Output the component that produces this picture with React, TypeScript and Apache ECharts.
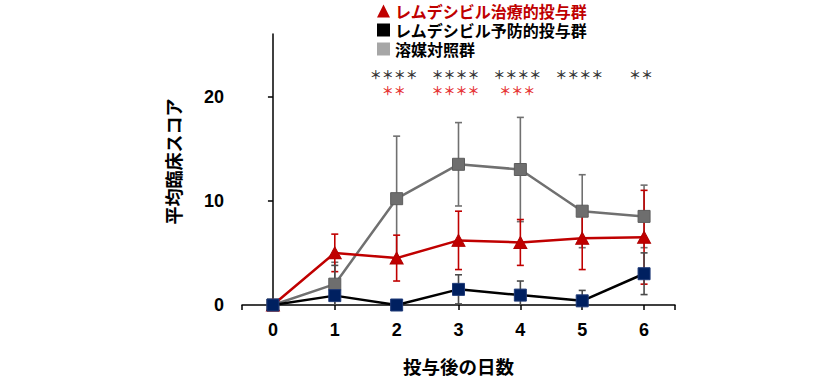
import React, { useEffect, useRef } from "react";
import * as echarts from "echarts";

const days = [0, 1, 2, 3, 4, 5, 6];
const treatMean = [0, 5.0, 4.5, 6.2, 6.0, 6.4, 6.5];
const treatErr = [0, 1.8, 2.2, 2.8, 2.2, 3.0, 4.5];
const prevMean = [0, 0.9, 0, 1.5, 0.95, 0.4, 3.0];
const prevErr = [0, 2.9, 0, 1.4, 1.35, 1.0, 2.0];
const vehMean = [0, 2.0, 10.2, 13.5, 13.0, 9.0, 8.5];
const vehErr = [0, 2.1, 6.0, 4.0, 5.0, 3.5, 3.0];

const yTicks = [0, 10, 20];
const sigBlackDays = [2, 3, 4, 5, 6];
const sigBlackText = ["****", "****", "****", "****", "**"];
const sigRedDays = [2, 3, 4];
const sigRedText = ["**", "****", "***"];

const NAME_TREAT = "レムデシビル治療的投与群";
const NAME_PREV = "レムデシビル予防的投与群";
const NAME_VEH = "溶媒対照群";

const JP = "'Noto Sans CJK JP', 'Noto Sans', sans-serif";
const NUM = "'Liberation Sans', Arial, sans-serif";

function errSeries(mean: number[], err: number[], color: string, z: number) {
  return {
    type: "custom",
    z,
    silent: true,
    data: days.map((d, i) => [d, mean[i] - err[i], mean[i] + err[i], err[i]]),
    renderItem: (params: any, api: any) => {
      const x = api.value(0);
      let lo = api.value(1);
      const hi = api.value(2);
      const e = api.value(3);
      if (!e) return { type: "group", children: [] };
      const loCap = lo >= 0;
      if (lo < 0) lo = 0;
      const pHi = api.coord([x, hi]);
      const pLo = api.coord([x, lo]);
      const w = 3.5;
      const style = { stroke: color, lineWidth: 1.6 };
      const children: any[] = [
        { type: "line", shape: { x1: pHi[0], y1: pHi[1], x2: pLo[0], y2: pLo[1] }, style },
        { type: "line", shape: { x1: pHi[0] - w, y1: pHi[1], x2: pHi[0] + w, y2: pHi[1] }, style },
      ];
      if (loCap) {
        children.push({ type: "line", shape: { x1: pLo[0] - w, y1: pLo[1], x2: pLo[0] + w, y2: pLo[1] }, style });
      }
      return { type: "group", children };
    },
  };
}

// display each "*" with the wide, centred asterisk glyph
const wideStars = (s: string) => s.replace(/\*/g, "＊");

function sigSeries(xs: number[], texts: string[], yLevel: number, color: string) {
  const label = {
    show: true,
    position: "inside",
    offset: [-3, 0],
    color,
    fontSize: 12,
    fontWeight: "bold",
    lineHeight: 11,
    fontFamily: JP,
    textBorderWidth: 0,
    textBorderColor: "transparent",
  };
  return {
    type: "scatter",
    z: 10,
    silent: true,
    symbolSize: 0,
    itemStyle: { color },
    data: xs.map((d, i) => ({ value: [d, yLevel], label: { ...label, formatter: wideStars(texts[i]) } })),
    label,
  };
}

export default function App() {
  const ref = useRef<HTMLDivElement>(null);
  useEffect(() => {
    document.body.style.margin = "0";
    const chart = echarts.init(ref.current!, null, { renderer: "svg" });
    const option: any = {
      animation: false,
      backgroundColor: "#fff",
      grid: { left: 242, top: 34, width: 433, height: 271, containLabel: false, outerBoundsMode: "none" },
      legend: {
        orient: "vertical",
        left: 372,
        top: -2,
        itemWidth: 13,
        itemHeight: 13,
        itemGap: 3,
        selectedMode: false,
        textStyle: { fontSize: 16, fontWeight: "bold", fontFamily: JP, lineHeight: 13, color: "#000" },
        data: [
          { name: NAME_TREAT, icon: "triangle", itemStyle: { color: "#c00000", borderWidth: 0 }, textStyle: { color: "#c00000" } },
          { name: NAME_PREV, icon: "rect", itemStyle: { color: "#000000", borderWidth: 0 } },
          { name: NAME_VEH, icon: "rect", itemStyle: { color: "#a6a6a6", borderWidth: 0 } },
        ],
      },
      xAxis: {
        type: "value",
        min: -0.5,
        max: 6.5,
        axisLine: { show: true, onZero: false, lineStyle: { color: "#000", width: 1.5 } },
        axisTick: { show: true, customValues: [-0.5, ...days, 6.5], length: 5, lineStyle: { color: "#000", width: 1.5 } },
        axisLabel: { customValues: days, margin: 16, fontSize: 18, fontWeight: "bold", color: "#000", fontFamily: NUM },
        splitLine: { show: false },
        name: "投与後の日数",
        nameLocation: "middle",
        nameGap: 52,
        nameTextStyle: { fontSize: 18.5, lineHeight: 17, fontWeight: "bold", color: "#000", fontFamily: JP },
      },
      yAxis: {
        type: "value",
        min: 0,
        max: 26,
        axisLine: { show: true, lineStyle: { color: "#000", width: 1.5 } },
        axisTick: { show: true, customValues: yTicks, length: 5, lineStyle: { color: "#000", width: 1.5 } },
        axisLabel: { customValues: yTicks, margin: 18, fontSize: 18, fontWeight: "bold", color: "#000", fontFamily: NUM },
        splitLine: { show: false },
        name: "平均臨床スコア",
        nameLocation: "middle",
        nameRotate: 90,
        nameGap: 60,
        nameTextStyle: { fontSize: 18, fontWeight: "bold", color: "#000", fontFamily: JP, padding: [0, 0, 0, 16] },
      },
      series: [
        errSeries(vehMean, vehErr, "#707070", 2),
        errSeries(treatMean, treatErr, "#c00000", 2),
        errSeries(prevMean, prevErr, "#4a4a4a", 2),
        {
          type: "line",
          name: NAME_VEH,
          z: 3,
          data: days.map((d, i) => [d, vehMean[i]]),
          symbol: "rect",
          symbolSize: 12,
          showAllSymbol: true,
          lineStyle: { color: "#707070", width: 2.5 },
          itemStyle: { color: "#6e6e6e", borderColor: "#5c5c5c", borderWidth: 1 },
        },
        {
          type: "line",
          name: NAME_TREAT,
          z: 4,
          data: days.map((d, i) => [d, treatMean[i]]),
          symbol: "triangle",
          symbolSize: [13, 12],
          showAllSymbol: true,
          lineStyle: { color: "#c00000", width: 2.5 },
          itemStyle: { color: "#c00000", borderColor: "#b00000", borderWidth: 1 },
        },
        {
          type: "line",
          name: NAME_PREV,
          z: 5,
          data: days.map((d, i) => [d, prevMean[i]]),
          symbol: "rect",
          symbolSize: 12,
          showAllSymbol: true,
          lineStyle: { color: "#000000", width: 2.5 },
          itemStyle: { color: "#002060", borderColor: "#1f3a78", borderWidth: 1 },
        },
        sigSeries(sigBlackDays, sigBlackText, 22.1, "#000000"),
        sigSeries(sigRedDays, sigRedText, 20.6, "#e00000"),
      ],
    };
    chart.setOption(option);
    return () => chart.dispose();
  }, []);
  return <div ref={ref} style={{ width: 840, height: 378 }} />;
}
